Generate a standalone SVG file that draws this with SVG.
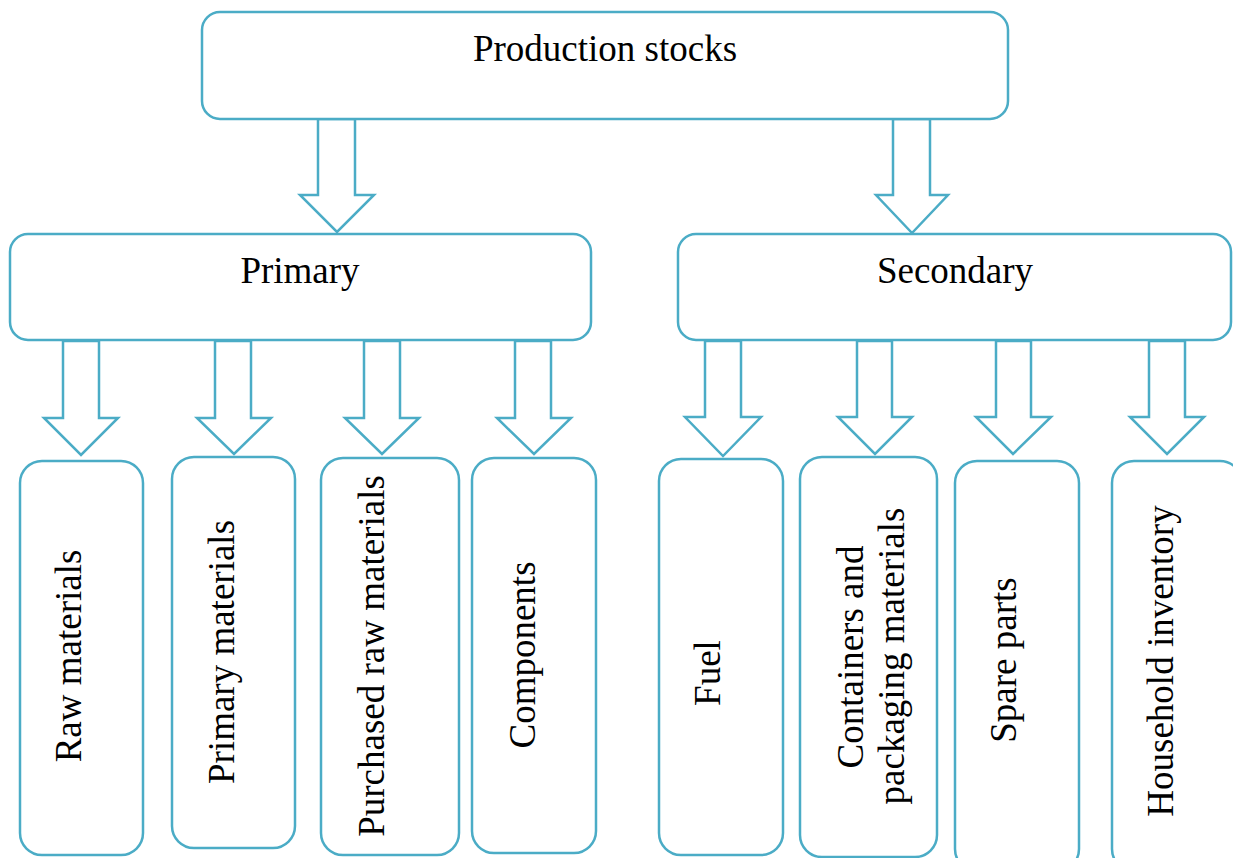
<svg xmlns="http://www.w3.org/2000/svg" width="1233" height="858" viewBox="0 0 1233 858">
<style>
.box{fill:#fff;stroke:#4BACC6;stroke-width:2.5}
.arr{fill:#fff;stroke:#4BACC6;stroke-width:2.5;stroke-linejoin:miter}
.t{font-family:'Liberation Serif','Times New Roman',Tinos,'DejaVu Serif',serif;font-size:37px;fill:#000}
.c{text-anchor:middle}
</style>
<rect width="1233" height="858" fill="#fff"/>
<g id="connectors">
<polygon class="arr" points="318,119 355,119 355,195 374,195 337,232 300,195 318,195"/>
<polygon class="arr" points="893,119 930,119 930,195 948,195 912,233 876,195 893,195"/>
<polygon class="arr" points="63,341 99,341 99,418 118,418 81,455 44,418 63,418"/>
<polygon class="arr" points="215,341 251,341 251,418 271,418 234,454 197,418 215,418"/>
<polygon class="arr" points="364,341 400,341 400,418 419,418 382,454 345,418 364,418"/>
<polygon class="arr" points="515,341 551,341 551,418 571,418 534,454 497,418 515,418"/>
<polygon class="arr" points="705,341 741,341 741,417 761,417 723,456 685,417 705,417"/>
<polygon class="arr" points="857,341 892,341 892,417 912,417 875,454 838,417 857,417"/>
<polygon class="arr" points="996,341 1031,341 1031,417 1051,417 1013,454 976,417 996,417"/>
<polygon class="arr" points="1149,341 1185,341 1185,417 1204,417 1167,454 1130,417 1149,417"/>
</g>
<g id="production-stocks">
<rect class="box" x="202" y="12" width="806" height="107" rx="18"/>
<text class="t c" x="605" y="61">Production stocks</text>
</g>
<g id="primary">
<rect class="box" x="10" y="234" width="581" height="106" rx="18"/>
<text class="t c" x="300" y="283">Primary</text>
</g>
<g id="secondary">
<rect class="box" x="678" y="234" width="553" height="106" rx="18"/>
<text class="t c" x="955" y="283">Secondary</text>
</g>
<g id="raw-materials">
<rect class="box" x="20" y="461" width="123" height="394" rx="22"/>
<text class="t c" transform="translate(81,656) rotate(-90)">Raw materials</text>
</g>
<g id="primary-materials">
<rect class="box" x="172" y="457" width="123" height="391" rx="22"/>
<text class="t c" transform="translate(234,652) rotate(-90)">Primary materials</text>
</g>
<g id="purchased-raw-materials">
<rect class="box" x="321" y="458" width="138" height="397" rx="22"/>
<text class="t c" transform="translate(384,656) rotate(-90)">Purchased raw materials</text>
</g>
<g id="components">
<rect class="box" x="472" y="458" width="124" height="395" rx="22"/>
<text class="t c" transform="translate(535,655) rotate(-90)">Components</text>
</g>
<g id="fuel">
<rect class="box" x="659" y="459" width="124" height="396" rx="22"/>
<text class="t c" transform="translate(720,673) rotate(-90)">Fuel</text>
</g>
<g id="containers">
<rect class="box" x="800" y="457" width="137" height="400" rx="22"/>
<text class="t c" transform="translate(863,657) rotate(-90)">Containers and</text>
<text class="t c" transform="translate(904,656) rotate(-90)">packaging materials</text>
</g>
<g id="spare-parts">
<rect class="box" x="955" y="461" width="124" height="410" rx="22"/>
<text class="t c" transform="translate(1016,660) rotate(-90)">Spare parts</text>
</g>
<g id="household-inventory">
<rect class="box" x="1112" y="461" width="130" height="410" rx="22"/>
<text class="t c" transform="translate(1173,661) rotate(-90)">Household inventory</text>
</g>
</svg>
